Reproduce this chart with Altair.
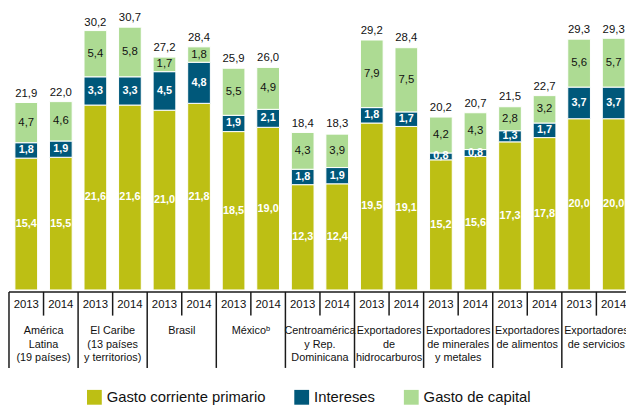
import altair as alt
import pandas as pd

groups = [
    "América\nLatina\n(19 países)",
    "El Caribe\n(13 países\ny territorios)",
    "Brasil",
    "México\u1d47",
    "Centroamérica\ny Rep.\nDominicana",
    "Exportadores\nde\nhidrocarburos",
    "Exportadores\nde minerales\ny metales",
    "Exportadores\nde alimentos",
    "Exportadores\nde servicios",
]
years = ["2013", "2014"]
components = ["Gasto corriente primario", "Intereses", "Gasto de capital"]
colors = ["#BDBF14", "#00587A", "#ADDB93"]

primario = [15.4, 15.5, 21.6, 21.6, 21.0, 21.8, 18.5, 19.0, 12.3, 12.4,
            19.5, 19.1, 15.2, 15.6, 17.3, 17.8, 20.0, 20.0]
intereses = [1.8, 1.9, 3.3, 3.3, 4.5, 4.8, 1.9, 2.1, 1.8, 1.9,
             1.8, 1.7, 0.8, 0.8, 1.3, 1.7, 3.7, 3.7]
capital = [4.7, 4.6, 5.4, 5.8, 1.7, 1.8, 5.5, 4.9, 4.3, 3.9,
           7.9, 7.5, 4.2, 4.3, 2.8, 3.2, 5.6, 5.7]
totals = [21.9, 22.0, 30.2, 30.7, 27.2, 28.4, 25.9, 26.0, 18.4, 18.3,
          29.2, 28.4, 20.2, 20.7, 21.5, 22.7, 29.3, 29.3]

rows, bars = [], []
for gi, g in enumerate(groups):
    for yi, yr in enumerate(years):
        idx = gi * 2 + yi
        key = f"{gi}-{yr}"
        bars.append(dict(key=key, group=g, year=yr, total=totals[idx]))
        for k, (comp, arr) in enumerate(zip(components, [primario, intereses, capital])):
            rows.append(dict(key=key, comp=comp, k=k, value=arr[idx]))
seg = pd.DataFrame(rows)
bar_df = pd.DataFrame(bars)
keys = list(bar_df["key"])

FONT = "Liberation Sans"
LINE = "#1a1a1a"
LAB = "replace(format(datum.value, '.1f'), '.', ',')"

xscale = alt.Scale(domain=keys, range=[0, 630], paddingInner=0, paddingOuter=0)


def X(**kw):
    return alt.X("key:N", sort=keys, scale=xscale, axis=None, **kw)


yscale = alt.Scale(domain=[0, 32.64])

base = alt.Chart(seg).transform_stack(
    stack="value", groupby=["key"], as_=["v0", "v1"],
    sort=[alt.SortField("k", order="ascending")],
)

bar_layer = base.mark_bar(width=23, stroke="white", strokeWidth=1).encode(
    x=X(),
    y=alt.Y("v0:Q", scale=yscale, axis=None),
    y2="v1:Q",
    color=alt.Color(
        "comp:N",
        scale=alt.Scale(domain=components, range=colors),
        legend=alt.Legend(
            orient="none", legendX=79, legendY=384, direction="horizontal",
            title=None, symbolType="square", symbolSize=225, symbolStrokeWidth=0,
            symbolOpacity=1, labelFontSize=15, labelFont=FONT, labelColor="#111",
            labelOffset=5, columnPadding=29, padding=0, labelLimit=400,
        ),
    ),
)

seg_lab = base.transform_calculate(
    mid="(datum.v0 + datum.v1) / 2", lab=LAB
)

white_txt = seg_lab.transform_filter("datum.k < 2").mark_text(
    color="white", fontWeight="bold", fontSize=11, font=FONT
).encode(x=X(), y=alt.Y("mid:Q", scale=yscale, axis=None), text="lab:N")

black_txt = seg_lab.transform_filter("datum.k == 2").mark_text(
    color="#111", fontSize=11.5, font=FONT
).encode(x=X(), y=alt.Y("mid:Q", scale=yscale, axis=None), text="lab:N")

tot_txt = alt.Chart(bar_df).transform_calculate(
    lab="replace(format(datum.total, '.1f'), '.', ',')"
).mark_text(color="#111", fontSize=11.5, font=FONT, dy=-9).encode(
    x=X(), y=alt.Y("total:Q", scale=yscale, axis=None), text="lab:N"
)

year_txt = alt.Chart(bar_df).mark_text(
    color="#111", fontSize=11.5, font=FONT, baseline="middle"
).encode(x=X(), y=alt.value(298.5), text="year:N")

group_txt = alt.Chart(bar_df).transform_filter("datum.year == '2014'").mark_text(
    color="#111", fontSize=11, font=FONT, baseline="top", lineBreak="\n",
    lineHeight=13.7,
).encode(x=X(bandPosition=0), y=alt.value(319), text="group:N")

grp_rule = alt.Chart(bar_df).transform_filter("datum.year == '2013'").mark_rule(
    color=LINE, strokeWidth=1.5
).encode(x=X(bandPosition=0), y=alt.value(285), y2=alt.value(362))

yr_rule = alt.Chart(bar_df).transform_filter("datum.year == '2014'").mark_rule(
    color=LINE, strokeWidth=1.5
).encode(x=X(bandPosition=0), y=alt.value(285), y2=alt.value(309))

h_rule = alt.Chart(pd.DataFrame({"a": [0]})).mark_rule(
    color=LINE, strokeWidth=1.5
).encode(x=alt.value(0), x2=alt.value(630), y=alt.value(285))

chart = alt.layer(
    bar_layer, white_txt, black_txt, tot_txt, year_txt, group_txt,
    grp_rule, yr_rule, h_rule,
).properties(
    width=625, height=283,
    padding={"left": 1, "top": 0, "right": 0, "bottom": 117},
    autosize=alt.AutoSizeParams(type="none"),
).configure_view(stroke=None)

chart.save("out.html", embed_options={"renderer": "svg", "actions": False})
